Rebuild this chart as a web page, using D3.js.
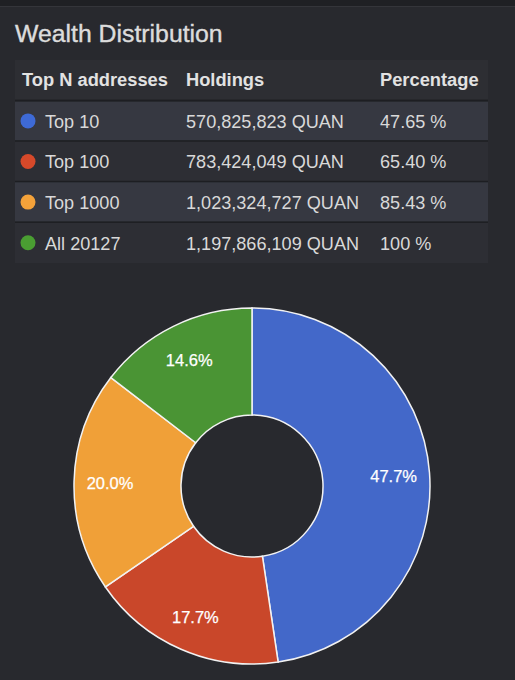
<!DOCTYPE html>
<html><head><meta charset="utf-8">
<script src="https://cdn.jsdelivr.net/npm/d3@7"></script>
<style>
html,body{margin:0;padding:0;background:#28292e;}
svg{display:block;font-family:"Liberation Sans",Arial,sans-serif;}
</style></head>
<body>
<svg id="c" width="515" height="680"></svg>
<script>
const categories = ["Top 10", "Top 100", "Top 1000", "All 20127"];
const holdings = ["570,825,823 QUAN", "783,424,049 QUAN", "1,023,324,727 QUAN", "1,197,866,109 QUAN"];
const percentages = ["47.65 %", "65.40 %", "85.43 %", "100 %"];
const headers = ["Top N addresses", "Holdings", "Percentage"];
const sliceValues = [570825823, 212598226, 239900678, 174541382];
const dotColors = ["#3e6ad6", "#d6492a", "#f4a23a", "#4a9e32"];
const sliceColors = ["#4368c9", "#c9472a", "#f0a038", "#4a9434"];

const svg = d3.select("#c");
svg.append("rect").attr("x",0).attr("y",0).attr("width",515).attr("height",680).attr("fill","#28292e");
svg.append("rect").attr("x",0).attr("y",0).attr("width",515).attr("height",6).attr("fill","#1f2024");
svg.append("rect").attr("x",0).attr("y",6).attr("width",515).attr("height",1).attr("fill","#34353a");

svg.append("text").attr("x",15).attr("y",42).attr("fill","#dcdcdc")
  .attr("font-size",24.8).attr("stroke","#dcdcdc").attr("stroke-width",0.4).text("Wealth Distribution");

// table
const tx = 15, tw = 473;
const colX = [22, 186, 380];
const rowY = d3.scaleBand().domain(d3.range(5)).range([60, 263]);
svg.append("rect").attr("x",tx).attr("y",60).attr("width",tw).attr("height",41).attr("fill","#2d2e33");
svg.selectAll("text.h").data(headers).join("text").attr("class","h")
  .attr("x",(d,i)=>colX[i]).attr("y",86).attr("fill","#e2e2e2")
  .attr("font-size",18.3).attr("font-weight","bold").text(d=>d);

const rows = svg.selectAll("g.row").data(categories).join("g").attr("class","row")
  .attr("transform",(d,i)=>`translate(0,${rowY(i+1)})`);
rows.append("rect").attr("x",tx).attr("y",0).attr("width",tw).attr("height",rowY.bandwidth())
  .attr("fill",(d,i)=> i%2===0 ? "#363841" : "#2d2e34");
rows.append("rect").attr("x",tx).attr("y",-1).attr("width",tw).attr("height",(d,i)=>i===0?2:1.5).attr("fill","#1d1e22");
rows.append("circle").attr("cx",28).attr("cy",rowY.bandwidth()/2).attr("r",7.5).attr("fill",(d,i)=>dotColors[i]);
const fs = 18.1;
rows.append("text").attr("x",45).attr("y",rowY.bandwidth()/2+7).attr("fill","#d9d9d9").attr("font-size",fs).text(d=>d);
rows.append("text").attr("x",colX[1]).attr("y",rowY.bandwidth()/2+7).attr("fill","#d9d9d9").attr("font-size",fs).text((d,i)=>holdings[i]);
rows.append("text").attr("x",colX[2]).attr("y",rowY.bandwidth()/2+7).attr("fill","#d9d9d9").attr("font-size",fs).text((d,i)=>percentages[i]);

// donut
const cx = 252, cy = 486, R = 178, r0 = 71;
const total = d3.sum(sliceValues);
const pie = d3.pie().sort(null).value(d=>d)(sliceValues);
const arc = d3.arc().innerRadius(r0).outerRadius(R);
const labelArc = d3.arc().innerRadius(142).outerRadius(142);
const g = svg.append("g").attr("transform",`translate(${cx},${cy})`);
g.selectAll("path").data(pie).join("path").attr("d",arc)
  .attr("fill",(d,i)=>sliceColors[i]).attr("stroke","#f2f2f2").attr("stroke-width",1.5);
const fmt = d3.format(".1%");
g.selectAll("text").data(pie).join("text")
  .attr("transform",d=>`translate(${labelArc.centroid(d)})`)
  .attr("text-anchor","middle").attr("dy","0.42em")
  .attr("fill","#ffffff").attr("font-size",16.5)
  .attr("stroke","#ffffff").attr("stroke-width",0.25)
  .text(d=>fmt(d.data/total));
</script>
</body></html>
